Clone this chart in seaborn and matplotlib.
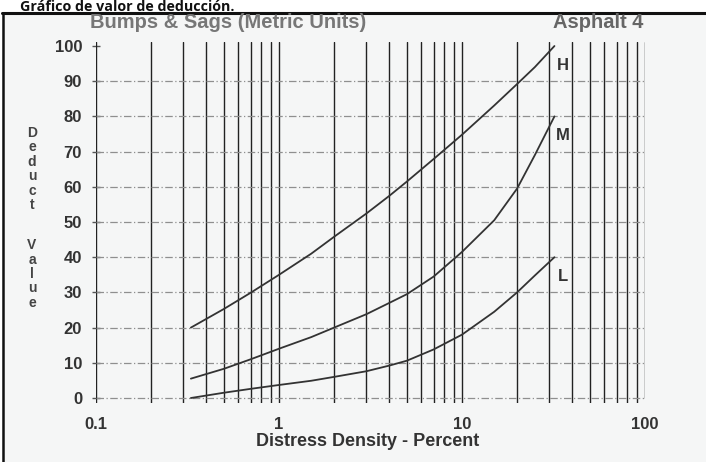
import numpy as np
import pandas as pd
import matplotlib
matplotlib.use("Agg")
import matplotlib.pyplot as plt
from matplotlib.lines import Line2D
from matplotlib.patches import Rectangle
import seaborn as sns

# ---- data ----
density = [0.33, 0.5, 0.7, 1, 1.5, 2, 3, 4, 5, 7, 10, 15, 20, 25, 32]
deduct_H = [20, 25.3, 29.9, 35, 41, 45.8, 52.4, 57.4, 61.5, 67.9, 74.8, 83.1, 89.2, 94, 100]
deduct_M = [5.5, 8.3, 11, 14, 17.3, 20, 23.8, 27, 29.5, 34.5, 41.5, 50.5, 59.5, 69, 80]
deduct_L = [0, 1.5, 2.6, 3.7, 4.9, 6, 7.6, 9.2, 10.6, 13.8, 18, 24.5, 30, 34.8, 40]
severity = ["H", "M", "L"]
label_y = [94.5, 74.5, 34.5]
label_x = 35.6
xtick_vals = [0.1, 1, 10, 100]
xtick_labels = ["0.1", "1", "10", "100"]
ytick_vals = list(range(0, 101, 10))

df = pd.concat([
    pd.DataFrame({"density": density, "deduct": d, "sev": s})
    for d, s in zip([deduct_H, deduct_M, deduct_L], severity)
])

sns.set_style("white")
plt.rcParams["font.family"] = ["Liberation Sans", "DejaVu Sans"]

W, H = 706, 462
fig = plt.figure(figsize=(W / 100, H / 100), dpi=100)
fig.patch.set_facecolor("white")

# scanned page background and frame
bg = Rectangle((2 / W, 0), 1 - 2 / W, 1 - 13 / H, transform=fig.transFigure,
               facecolor="#f5f6f6", edgecolor="none", zorder=-5)
fig.add_artist(bg)
fig.add_artist(Line2D([2 / W, 1], [1 - 13 / H, 1 - 13 / H], transform=fig.transFigure,
                      color="#111111", lw=2.2, zorder=-4))
fig.add_artist(Line2D([2.5 / W, 2.5 / W], [0, 1 - 13 / H], transform=fig.transFigure,
                      color="#111111", lw=1.8, zorder=-4))

ax = fig.add_axes([96 / W, 59 / H, 549 / W, 361 / H])
ax.set_zorder(2)
ax.patch.set_visible(False)
ax.set_xscale("log")
ax.set_xlim(0.1, 100)
ax.set_ylim(-1.42, 101.14)
for s in ax.spines.values():
    s.set_visible(False)

# vertical log grid (solid black lines)
vx = [m * 10.0 ** e for e in (-1, 0, 1) for m in range(1, 10)]
for v in vx:
    ax.axvline(v, color="#222222", lw=1.0, zorder=1)
ax.axvline(100, ymin=1.42 / 102.56, ymax=1, color="#222222", lw=1.0, zorder=1)

# horizontal dash-dot grid
for yv in ytick_vals[:-1]:
    ax.axhline(yv, color="#8f8f8f", lw=0.9, ls=(0, (6, 2, 1, 2)), zorder=1)

sns.lineplot(data=df, x="density", y="deduct", hue="sev", units="sev", estimator=None,
             palette={"H": "#333333", "M": "#333333", "L": "#333333"},
             lw=1.3, legend=False, ax=ax, zorder=3)

for s, yv in zip(severity, label_y):
    ax.text(label_x, yv, s, ha="center", va="center", fontsize=12, fontweight="bold",
            color="#333333")

ax.set_yticks(ytick_vals)
ax.set_yticklabels([str(v) for v in ytick_vals])
ax.set_xticks(xtick_vals)
ax.set_xticklabels(xtick_labels)
ax.xaxis.set_minor_locator(matplotlib.ticker.NullLocator())
ax.tick_params(axis="y", direction="inout", length=6, width=1, color="#555555", pad=7,
               labelsize=12, labelcolor="#333333", left=True)
ax.tick_params(axis="x", length=0, pad=10, labelsize=12, labelcolor="#333333")
for t in ax.get_xticklabels() + ax.get_yticklabels():
    t.set_fontweight("bold")
ax.set_xlabel("")
ax.set_ylabel("")

fig.text(368 / W, 1 - 441 / H, "Distress Density - Percent", ha="center", va="center",
         fontsize=13, fontweight="bold", color="#333333")
fig.text(90 / W, 1 - 28 / H, "Bumps & Sags (Metric Units)", ha="left", va="baseline",
         fontsize=14.5, fontweight="bold", color="#777777")
fig.text(643 / W, 1 - 28 / H, "Asphalt 4", ha="right", va="baseline",
         fontsize=14.5, fontweight="bold", color="#666666")
fig.text(32 / W, 1 - 169 / H, "D\ne\nd\nu\nc\nt", ha="center", va="center",
         fontsize=10, fontweight="bold", color="#444444", linespacing=1.04)
fig.text(32 / W, 1 - 274 / H, "V\na\nl\nu\ne", ha="center", va="center",
         fontsize=10, fontweight="bold", color="#444444", linespacing=1.04)
fig.text(20 / W, 1 - 11 / H, "Gráfico de valor de deducción.", ha="left", va="baseline",
         fontsize=10.3, fontweight="bold", color="#111111", family=["Open Sans", "DejaVu Sans"],
         zorder=5)

fig.savefig("out.png", dpi=100, facecolor=fig.get_facecolor())
